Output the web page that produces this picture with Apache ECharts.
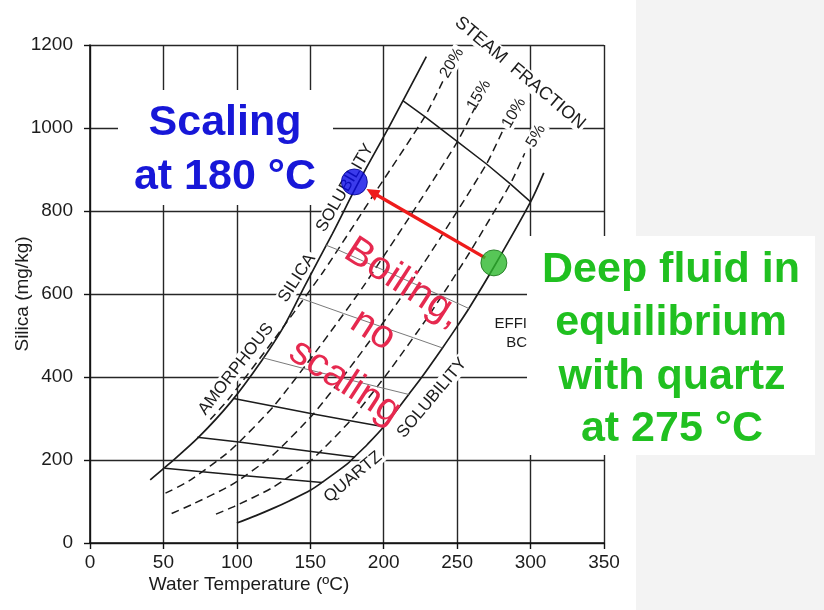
<!DOCTYPE html>
<html>
<head>
<meta charset="utf-8">
<script src="https://cdn.jsdelivr.net/npm/echarts@6/dist/echarts.min.js"></script>
<style>
  html, body { margin: 0; padding: 0; background: #ffffff; }
  #chart { width: 824px; height: 610px; }
</style>
</head>
<body>
<div id="chart"></div>
<script>
// ---- Silica (mg/kg) versus water temperature (°C) ----

// Amorphous silica solubility curve [T, SiO2]
const amorphousSilica = [[41,152],[53,188],[74,255],[96,340],[117,440],[132,522],[146,618],[165,745],[183,870],[204,1005],[229,1172]];

// Quartz solubility curve [T, SiO2]
const quartzSolubility = [[100,48],[113,66],[125,84],[136,102],[150,127],[158,146],[175,190],[180,207],[189,238],[200,280],[217,358],[225,395],[240,470],[250,522],[258,565],[275,665],[300,822],[309,892]];

// Constant steam-fraction curves (dashed)
const steam5  = [[85.8,69.5],[98.4,88.4],[124.4,133.7],[150.8,200],[177.2,294.7],[204,415.8],[231,549.5],[258.5,700],[286.2,865.3],[296,939]];
const steam10 = [[55.6,71],[69.7,93.3],[96.9,141.1],[124.3,211.1],[152.1,311.1],[180.5,438.9],[209.5,580],[239.2,738.9],[270,913.3],[280.7,991]];
const steam15 = [[51.4,120],[67.4,149.4],[95.7,223.5],[125,329.4],[154.6,464.7],[185.3,614],[217,782.4],[250.2,967.1],[262.1,1049]];
const steam20 = [[81.9,297.5],[95.1,350],[126,493.8],[158.6,652.5],[191.7,831.3],[228,1027.5],[240.6,1115]];

// Adiabatic boiling paths starting on the quartz curve
const boil158 = [[158,146],[133,153.7],[105.6,162.2],[76.3,171.8],[51,180]];
const boil180 = [[180,207],[156,218],[129.9,230],[101.4,243.5],[73,255]];
const boil200 = [[200,280],[177.2,294.7],[152.1,311.1],[125,329.4],[97.8,348]];
const boil300 = [[300,822],[286.2,865.3],[270,913.3],[250.2,967.1],[228,1027.5],[213,1066]];
const boil217 = [[217,358],[195.4,376.8],[171.4,397.8],[145,421],[118,446]];
const boil240 = [[240,470],[220.2,494.7],[197.8,522],[172.7,553],[145.2,587.5],[142.1,591]];
const boil258 = [[258,565],[239.8,594.7],[218.9,627.8],[195.3,664.7],[168.9,706.3],[160.5,718]];

// Highlighted states
const scalingPoint = [180, 870];
const deepFluidPoint = [275, 675];

const FONT = "'Liberation Sans', Arial, Helvetica, sans-serif";
const INK = '#1c1c1c';

function curve(data, opts) {
  return Object.assign({
    type: 'line', data: data, showSymbol: false, silent: true, z: 3,
    lineStyle: { color: INK, width: 1.6 }
  }, opts || {});
}
function dashed(data) {
  return curve(data, { smooth: 0.2, lineStyle: { color: INK, width: 1.5, type: [8, 5] } });
}
function boilLine(data, gray) {
  return curve(data, { lineStyle: gray ? { color: '#7a7a7a', width: 1 } : { color: INK, width: 1.5 } });
}
function curveLabel(text, x, y, deg, size) {
  return {
    type: 'text', x: x, y: y, rotation: deg * Math.PI / 180, z: 1,
    style: {
      text: text, fill: INK, font: (size || 17) + 'px ' + FONT,
      align: 'center', verticalAlign: 'middle',
      backgroundColor: '#ffffff', padding: [0, 2]
    }
  };
}
function bigText(text, x, y, color, size, weight, deg) {
  return {
    type: 'text', x: x, y: y, rotation: (deg || 0) * Math.PI / 180, z: 6,
    style: {
      text: text, fill: color, font: (weight || 'bold') + ' ' + size + 'px ' + FONT,
      align: 'center', verticalAlign: 'middle'
    }
  };
}

const chart = echarts.init(document.getElementById('chart'), null, { renderer: 'canvas' });

chart.setOption({
  backgroundColor: '#ffffff',
  animation: false,
  grid: { left: 90, right: 220, top: 45, bottom: 67, containLabel: false, outerBoundsMode: 'none' },
  xAxis: {
    type: 'value', min: 0, max: 350, interval: 50,
    name: 'Water Temperature (ºC)', nameLocation: 'middle', nameGap: 32, nameMoveOverlap: false,
    nameTextStyle: { fontSize: 19, color: INK, fontFamily: FONT, padding: [0, 196, 0, 0] },
    axisLine: { show: true, onZero: false, lineStyle: { color: '#111', width: 1.6 } },
    axisTick: { show: true, length: 6, lineStyle: { color: '#111', width: 1.4 } },
    axisLabel: { fontSize: 19, color: INK, fontFamily: FONT, margin: 10, formatter: function (v) { return String(v); } },
    splitLine: { show: true, showMinLine: true, showMaxLine: true, lineStyle: { color: '#262626', width: 1.4 } }
  },
  yAxis: {
    type: 'value', min: 0, max: 1200, interval: 200,
    name: 'Silica (mg/kg)', nameLocation: 'middle', nameGap: 58, nameMoveOverlap: false,
    nameTextStyle: { fontSize: 19, color: INK, fontFamily: FONT },
    axisLine: { show: true, onZero: false, lineStyle: { color: '#111', width: 1.6 } },
    axisTick: { show: true, length: 6, lineStyle: { color: '#111', width: 1.4 } },
    axisLabel: { fontSize: 19, color: INK, fontFamily: FONT, margin: 17, formatter: function (v) { return String(v); } },
    splitLine: { show: true, showMinLine: true, showMaxLine: true, lineStyle: { color: '#262626', width: 1.4 } }
  },
  series: [
    curve(amorphousSilica, { smooth: 0.3, lineStyle: { color: INK, width: 1.7 } }),
    curve(quartzSolubility, { smooth: 0.3, lineStyle: { color: INK, width: 1.7 } }),
    dashed(steam5), dashed(steam10), dashed(steam15), dashed(steam20),
    boilLine(boil158), boilLine(boil180), boilLine(boil200), boilLine(boil300),
    boilLine(boil217, true), boilLine(boil240, true), boilLine(boil258, true),
    {
      // boiling path from the deep fluid to the onset of scaling
      type: 'custom', coordinateSystem: 'cartesian2d', silent: true, z: 8,
      encode: { x: [0, 2], y: [1, 3] },
      data: [[deepFluidPoint[0], deepFluidPoint[1], scalingPoint[0], scalingPoint[1]]],
      renderItem: function (params, api) {
        const p0 = api.coord([api.value(0), api.value(1)]);
        const p1 = api.coord([api.value(2), api.value(3)]);
        const dx = p1[0] - p0[0], dy = p1[1] - p0[1];
        const len = Math.sqrt(dx * dx + dy * dy);
        const ux = dx / len, uy = dy / len;
        const tip = [p1[0] - ux * 14, p1[1] - uy * 14];
        const base = [tip[0] - ux * 13, tip[1] - uy * 13];
        const start = [p0[0] + ux * 10, p0[1] + uy * 10];
        const hw = 6;
        return {
          type: 'group',
          children: [
            { type: 'line', shape: { x1: start[0], y1: start[1], x2: base[0] + ux * 2, y2: base[1] + uy * 2 },
              style: { stroke: '#ee1b1b', lineWidth: 3.4 } },
            { type: 'polygon',
              shape: { points: [tip, [base[0] - uy * hw, base[1] + ux * hw], [base[0] + uy * hw, base[1] - ux * hw]] },
              style: { fill: '#ee1b1b' } }
          ]
        };
      }
    },
    {
      type: 'scatter', data: [scalingPoint], symbolSize: 26, z: 10, silent: true,
      itemStyle: { color: '#0a0ae6', borderColor: '#00008a', borderWidth: 1 }
    },
    {
      type: 'scatter', data: [deepFluidPoint], symbolSize: 26, z: 10, silent: true,
      itemStyle: { color: '#2db82d', borderColor: '#146e14', borderWidth: 1 }
    }
  ],
  graphic: [
    // slide background strip and text panels
    { type: 'rect', z: -10, shape: { x: 636, y: 0, width: 188, height: 610 }, style: { fill: '#f3f3f3' } },
    { type: 'rect', z: 1, shape: { x: 527, y: 236, width: 288, height: 219 }, style: { fill: '#ffffff' } },
    { type: 'rect', z: 1, shape: { x: 118, y: 90, width: 215, height: 115 }, style: { fill: '#ffffff' } },

    // curve captions
    curveLabel('AMORPHOUS', 236, 369, 52),
    curveLabel('SILICA', 297, 278, 57),
    curveLabel('SOLUBILITY', 345, 188, 60),
    curveLabel('QUARTZ', 353, 477, 40),
    curveLabel('SOLUBILITY', 432, 398, 50),
    curveLabel('STEAM  FRACTION', 520, 73, -40, 18),
    curveLabel('20%', 452, 63, 60, 16),
    curveLabel('15%', 479, 95, 60, 16),
    curveLabel('10%', 514, 113, 60, 16),
    curveLabel('5%', 536, 136, 60, 16),
    { type: 'text', x: 527, y: 324, z: 2, style: { text: 'EFFI', fill: INK, font: '15px ' + FONT, align: 'right', verticalAlign: 'middle' } },
    { type: 'text', x: 527, y: 343, z: 2, style: { text: 'BC', fill: INK, font: '15px ' + FONT, align: 'right', verticalAlign: 'middle' } },

    // annotations
    bigText('Scaling', 225, 123, '#1717d8', 43),
    bigText('at 180 °C', 225, 177, '#1717d8', 43),
    bigText('Deep fluid in', 671, 270, '#20c020', 43),
    bigText('equilibrium', 671, 323, '#20c020', 43),
    bigText('with quartz', 672, 377, '#20c020', 43),
    bigText('at 275 °C', 672, 429, '#20c020', 43),
    bigText('Boiling,', 403, 283, '#e6294f', 40, 'normal', -33),
    bigText('no', 373, 330, '#e6294f', 40, 'normal', -33),
    bigText('scaling', 345, 382, '#e6294f', 40, 'normal', -33)
  ]
});
</script>
</body>
</html>
